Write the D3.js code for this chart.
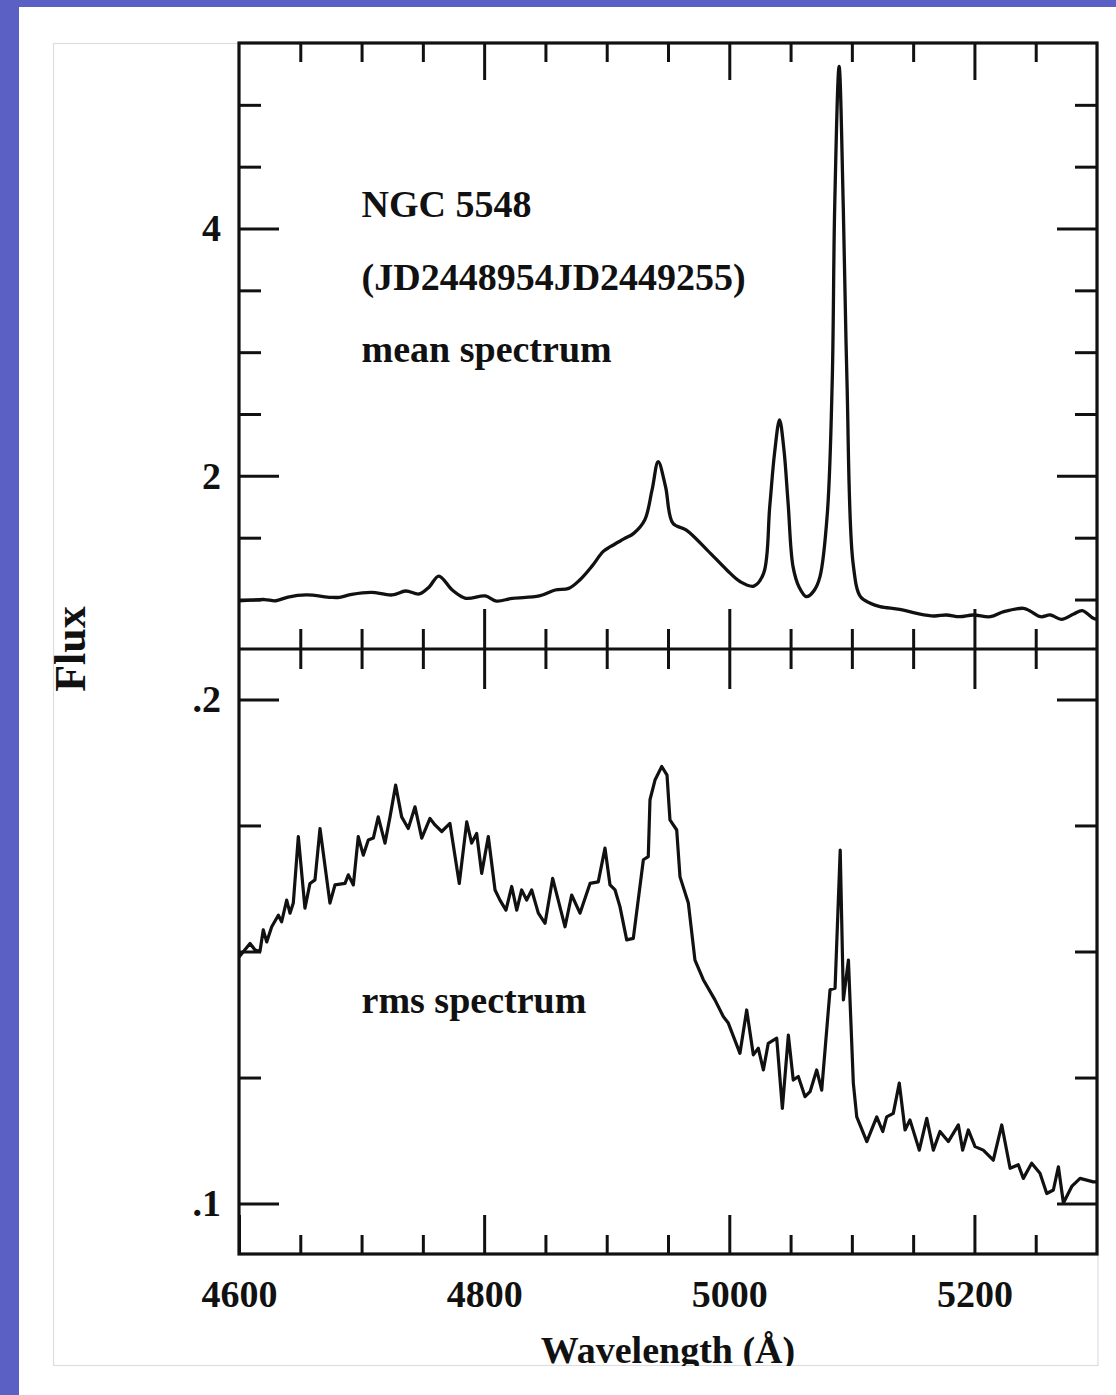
<!DOCTYPE html>
<html><head><meta charset="utf-8">
<script src="https://cdn.jsdelivr.net/npm/d3@7"></script>
<style>html,body{margin:0;padding:0;background:#5b60c5;} svg{display:block}</style>
</head><body>
<svg id="c" width="1116" height="1395"></svg>
<script>
// ---- data ----
const meanWave = [4600,4610,4621,4630,4640,4655,4675,4682,4692,4708,4725,4736,4747,4755,4763,4774,4785,4801,4810,4823,4845,4858,4869,4878,4888,4897,4903,4914,4922,4931,4937,4942,4948,4954,4965,4982,4998,5009,5020,5028,5033,5037,5041,5044.5,5048,5052,5057,5063,5069,5074,5080,5084,5086,5089.6,5093,5096,5101,5107,5115,5123,5139,5153,5167,5177,5188,5199,5213,5224,5240,5245,5254,5262,5271,5281,5288,5297,5300];
const meanFlux = [0.99,0.995,1.00,0.99,1.02,1.037,1.018,1.018,1.042,1.058,1.037,1.069,1.045,1.10,1.19,1.077,1.01,1.029,0.988,1.01,1.029,1.077,1.09,1.158,1.27,1.387,1.427,1.49,1.535,1.643,1.886,2.114,1.912,1.616,1.562,1.40,1.239,1.144,1.109,1.212,1.751,2.19,2.452,2.22,1.778,1.266,1.10,1.023,1.07,1.185,1.697,2.775,4.175,5.31,4.175,2.775,1.293,1.023,0.97,0.942,0.92,0.888,0.867,0.875,0.861,0.875,0.861,0.902,0.929,0.91,0.861,0.875,0.84,0.883,0.91,0.848,0.84];

const rmsWave = [4600,4609.0,4613.1,4617.1,4619.8,4622.6,4626.7,4632.1,4634.8,4638.9,4641.6,4644.3,4648.4,4653.8,4657.9,4662.0,4666.1,4674.2,4678.3,4686.5,4689.2,4693.3,4697.3,4701.4,4705.5,4709.6,4713.6,4719.1,4723.2,4727.8,4732.7,4738.1,4743.6,4749.1,4755.8,4759.9,4765.4,4772.1,4779.7,4785.8,4789.8,4793.9,4798.0,4803.4,4808.9,4812.9,4817.8,4822.5,4826.6,4830.6,4834.7,4838.8,4844.2,4849.7,4855.9,4866.0,4871.4,4878.2,4886.4,4893.1,4898.6,4902.7,4906.8,4910.8,4916.3,4921.7,4929.9,4933.9,4935.3,4939.4,4944.9,4949.2,4951.6,4957.1,4959.8,4966.6,4972.0,4978.8,4988.3,4995.1,4999.2,5008.7,5014.2,5019.6,5023.7,5027.8,5031.8,5038.7,5043.3,5048.2,5052.2,5056.3,5061.8,5065.9,5071.3,5075.4,5082.2,5086.3,5090.5,5093.1,5097.2,5101.2,5104.0,5112.2,5120.3,5125.2,5128.4,5133.8,5138.7,5143.4,5147.4,5155.0,5161.1,5166.5,5171.9,5178.7,5186.9,5190.4,5195.0,5200.5,5207.2,5215.4,5222.3,5229.1,5235.8,5239.9,5246.7,5253.5,5259.0,5264.4,5268.5,5272.6,5279.4,5286.2,5297.0,5300];
const rmsFlux = [.1489,.1516,.1503,.1500,.1543,.1519,.1549,.1572,.1559,.1602,.1576,.1596,.1728,.1586,.1635,.1642,.1744,.1596,.1632,.1635,.1652,.1632,.1728,.1691,.1721,.1725,.1767,.1715,.1767,.1830,.1767,.1744,.1787,.1725,.1764,.1751,.1738,.1754,.1635,.1757,.1715,.1734,.1655,.1728,.1622,.1602,.1582,.1629,.1582,.1622,.1602,.1622,.1576,.1556,.1645,.1549,.1612,.1576,.1635,.1638,.1705,.1632,.1622,.1589,.1523,.1526,.1682,.1688,.1801,.1840,.1867,.1850,.1761,.1741,.1648,.1596,.1483,.1444,.1404,.1371,.1358,.1298,.1384,.1295,.1308,.1265,.1318,.1328,.1189,.1334,.1245,.1252,.1212,.1222,.1265,.1225,.1424,.1427,.1701,.1404,.1483,.1239,.1172,.1123,.1172,.1143,.1172,.1179,.1239,.1146,.1166,.1106,.1169,.1106,.1143,.1123,.1156,.1106,.1146,.1113,.1106,.1086,.1156,.1070,.1077,.1050,.1080,.1060,.1020,.1027,.1073,.1001,.1034,.1050,.1043,.1043];

const xMajorTicks = [4600,4800,5000,5200];
const xMinorTicks = [4650,4700,4750,4850,4900,4950,5050,5100,5150,5250];
const xTickLabels = ["4600","4800","5000","5200"];
const meanMajorTicks = [2,4];
const meanMinorTicks = [1,1.5,2.5,3,3.5,4.5,5];
const meanTickLabels = ["2","4"];
const rmsMajorTicks = [0.1,0.2];
const rmsMinorTicks = [0.125,0.15,0.175];
const rmsTickLabels = [".1",".2"];

const annotations = [
  {panel:"mean", wave:4700, val:4.09, text:"NGC 5548"},
  {panel:"mean", wave:4700, val:3.50, text:"(JD2448954JD2449255)"},
  {panel:"mean", wave:4700, val:2.92, text:"mean spectrum"},
  {panel:"rms",  wave:4700, val:0.1378, text:"rms spectrum"}
];
const xTitle = "Wavelength (Å)";
const yTitle = "Flux";

// ---- layout ----
const FONT = "'Liberation Serif','Times New Roman',Times,serif";
const INK = "#111111";
const svg = d3.select("#c");
svg.append("rect").attr("width",1116).attr("height",1395).attr("fill","#5b60c5");
svg.append("rect").attr("x",19).attr("y",7).attr("width",1097).attr("height",1388).attr("fill","#ffffff");
svg.append("rect").attr("x",53.5).attr("y",43.5).attr("width",1044.5).attr("height",1322)
  .attr("fill","none").attr("stroke","#dcdce6").attr("stroke-width",1.2);

const L=239, R=1097, T=43, M=649, B=1254;
const x = d3.scaleLinear([4600,5300],[L,R]);
const yMean = d3.scaleLinear([0.6,5.5],[M,T]);
const yRms = d3.scaleLinear([0.09,0.21],[B,M]);

const defs = svg.append("defs");
defs.append("clipPath").attr("id","cm").append("rect").attr("x",L).attr("y",T).attr("width",R-L).attr("height",M-T);
defs.append("clipPath").attr("id","cr").append("rect").attr("x",L).attr("y",M).attr("width",R-L).attr("height",B-M);
defs.append("clipPath").attr("id","cf").append("rect").attr("x",0).attr("y",0).attr("width",1098).attr("height",1366);

// spectra
const meanData = d3.zip(meanWave, meanFlux);
const rmsData = d3.zip(rmsWave, rmsFlux);
svg.append("path").datum(meanData).attr("clip-path","url(#cm)")
  .attr("d", d3.line().x(d=>x(d[0])).y(d=>yMean(d[1])).curve(d3.curveCatmullRom.alpha(0.5)))
  .attr("fill","none").attr("stroke",INK).attr("stroke-width",3.3).attr("stroke-linejoin","round");
svg.append("path").datum(rmsData).attr("clip-path","url(#cr)")
  .attr("d", d3.line().x(d=>x(d[0])).y(d=>yRms(d[1])))
  .attr("fill","none").attr("stroke",INK).attr("stroke-width",3.2).attr("stroke-linejoin","round");

// axes (ticks)
function styleAxis(g){
  g.select(".domain").remove();
  g.selectAll("line").attr("stroke",INK).attr("stroke-width",3);
  g.selectAll("text").attr("fill",INK).style("font-family",FONT).style("font-weight","bold").style("font-size","38px");
}
const xMajInner = xMajorTicks.filter(d=>d>4600);
// top edge
svg.append("g").attr("transform",`translate(0,${T})`).call(d3.axisBottom(x).tickValues(xMinorTicks).tickSize(19).tickFormat("")).call(styleAxis);
svg.append("g").attr("transform",`translate(0,${T})`).call(d3.axisBottom(x).tickValues(xMajInner).tickSize(37).tickFormat("")).call(styleAxis);
// divider (both sides)
svg.append("g").attr("transform",`translate(0,${M})`).call(d3.axisBottom(x).tickValues(xMinorTicks).tickSize(20).tickFormat("")).call(styleAxis);
svg.append("g").attr("transform",`translate(0,${M})`).call(d3.axisTop(x).tickValues(xMinorTicks).tickSize(20).tickFormat("")).call(styleAxis);
svg.append("g").attr("transform",`translate(0,${M})`).call(d3.axisBottom(x).tickValues(xMajInner).tickSize(40).tickFormat("")).call(styleAxis);
svg.append("g").attr("transform",`translate(0,${M})`).call(d3.axisTop(x).tickValues(xMajInner).tickSize(40).tickFormat("")).call(styleAxis);
// bottom edge with labels
svg.append("g").attr("transform",`translate(0,${B})`).call(d3.axisTop(x).tickValues(xMinorTicks).tickSize(19).tickFormat("")).call(styleAxis);
svg.append("g").attr("transform",`translate(0,${B})`)
  .call(d3.axisBottom(x).tickValues(xMajorTicks).tickSize(-39).tickPadding(26).tickFormat((d,i)=>xTickLabels[i]))
  .call(styleAxis);

// left / right axes, mean panel
svg.append("g").attr("transform",`translate(${L},0)`).call(d3.axisRight(yMean).tickValues(meanMinorTicks).tickSize(22).tickFormat("")).call(styleAxis);
svg.append("g").attr("transform",`translate(${L},0)`).call(d3.axisRight(yMean).tickValues(meanMajorTicks).tickSize(40).tickFormat("")).call(styleAxis);
svg.append("g").attr("transform",`translate(${R},0)`).call(d3.axisLeft(yMean).tickValues(meanMinorTicks).tickSize(22).tickFormat("")).call(styleAxis);
svg.append("g").attr("transform",`translate(${R},0)`).call(d3.axisLeft(yMean).tickValues(meanMajorTicks).tickSize(40).tickFormat("")).call(styleAxis);
svg.append("g").attr("transform",`translate(${L},0)`)
  .call(d3.axisLeft(yMean).tickValues(meanMajorTicks).tickSize(0).tickPadding(18).tickFormat((d,i)=>meanTickLabels[i]))
  .call(styleAxis);
// left / right axes, rms panel
svg.append("g").attr("transform",`translate(${L},0)`).call(d3.axisRight(yRms).tickValues(rmsMinorTicks).tickSize(22).tickFormat("")).call(styleAxis);
svg.append("g").attr("transform",`translate(${L},0)`).call(d3.axisRight(yRms).tickValues(rmsMajorTicks).tickSize(40).tickFormat("")).call(styleAxis);
svg.append("g").attr("transform",`translate(${R},0)`).call(d3.axisLeft(yRms).tickValues(rmsMinorTicks).tickSize(22).tickFormat("")).call(styleAxis);
svg.append("g").attr("transform",`translate(${R},0)`).call(d3.axisLeft(yRms).tickValues(rmsMajorTicks).tickSize(40).tickFormat("")).call(styleAxis);
svg.append("g").attr("transform",`translate(${L},0)`)
  .call(d3.axisLeft(yRms).tickValues(rmsMajorTicks).tickSize(0).tickPadding(18).tickFormat((d,i)=>rmsTickLabels[i]))
  .call(styleAxis);

// frame lines
svg.append("rect").attr("x",L).attr("y",T).attr("width",R-L).attr("height",B-T)
  .attr("fill","none").attr("stroke",INK).attr("stroke-width",3.2);
svg.append("line").attr("x1",L).attr("x2",R).attr("y1",M).attr("y2",M).attr("stroke",INK).attr("stroke-width",3.2);

// annotations
svg.selectAll("text.ann").data(annotations).join("text").attr("class","ann")
  .attr("x",d=>x(d.wave)).attr("y",d=>d.panel==="mean"?yMean(d.val):yRms(d.val))
  .attr("fill",INK).style("font-family",FONT).style("font-weight","bold").style("font-size","38px")
  .text(d=>d.text);

// axis titles
svg.append("text").attr("clip-path","url(#cf)")
  .attr("x",(L+R)/2).attr("y",1363).attr("text-anchor","middle")
  .attr("fill",INK).style("font-family",FONT).style("font-weight","bold").style("font-size","38px")
  .text(xTitle);
svg.append("text").attr("transform",`translate(85,${M}) rotate(-90)`).attr("text-anchor","middle")
  .attr("fill",INK).style("font-family",FONT).style("font-weight","bold").style("font-size","44px")
  .text(yTitle);
</script>
</body></html>
